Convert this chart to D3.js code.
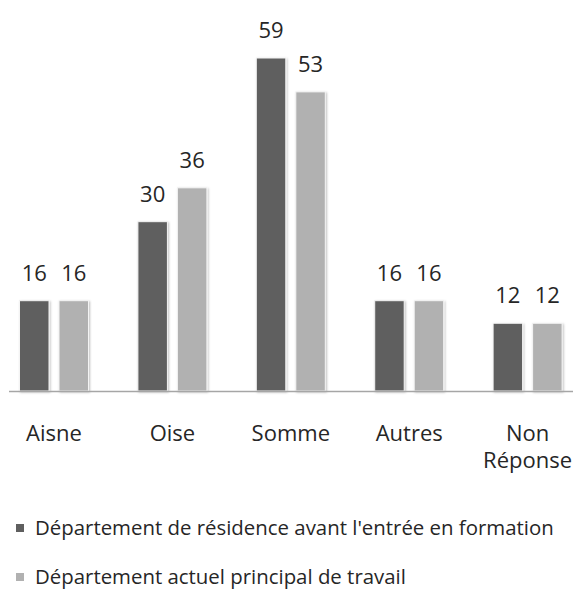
<!DOCTYPE html>
<html>
<head>
<meta charset="utf-8">
<script src="https://cdn.jsdelivr.net/npm/d3@7"></script>
<style>
  body { margin: 0; background: #fff; }
  text { font-family: "Open Sans", sans-serif; fill: #262626; }
</style>
</head>
<body>
<div id="chart"></div>
<script>
// data
const categories = ["Aisne", "Oise", "Somme", "Autres", "Non Réponse"];
const seriesNames = [
  "Département de résidence avant l'entrée en formation",
  "Département actuel principal de travail"
];
const residence = [16, 30, 59, 16, 12];
const travail = [16, 36, 53, 16, 12];
const seriesColors = ["#5f5f5f", "#b1b1b1"];

const width = 573, height = 591;
const baseline = 391;

const svg = d3.select("#chart").append("svg")
  .attr("width", width)
  .attr("height", height);

// soft shadow round the bars
const defs = svg.append("defs");
const filt = defs.append("filter").attr("id", "shadow")
  .attr("x", "-30%").attr("y", "-10%").attr("width", "160%").attr("height", "120%");
filt.append("feDropShadow")
  .attr("dx", 1).attr("dy", 1).attr("stdDeviation", 1.2)
  .attr("flood-color", "#000").attr("flood-opacity", 0.25);

// scales
var x = d3.scaleBand()
  .domain(categories)
  .range([-5.2, 586.8]);

var x1 = d3.scaleBand()
  .domain(seriesNames)
  .range([-34.5, 34.5])
  .paddingInner(0.253);

var y = d3.scaleLinear()
  .domain([0, 59])
  .range([baseline, 58]);

const rows = categories.map((c, i) => ({
  cat: c,
  values: [
    { s: seriesNames[0], v: residence[i], col: seriesColors[0] },
    { s: seriesNames[1], v: travail[i], col: seriesColors[1] }
  ]
}));

const group = svg.append("g").selectAll("g")
  .data(rows)
  .join("g")
  .attr("transform", d => `translate(${x(d.cat) + x.bandwidth() / 2},0)`);

group.selectAll("rect")
  .data(d => d.values)
  .join("rect")
  .attr("x", d => x1(d.s))
  .attr("y", d => y(d.v))
  .attr("width", x1.bandwidth())
  .attr("height", d => baseline - y(d.v))
  .attr("fill", d => d.col)
  .attr("stroke", "#f4f4f4")
  .attr("stroke-width", 1)
  .attr("filter", "url(#shadow)");

// value labels
group.selectAll("text.val")
  .data(d => d.values)
  .join("text")
  .attr("class", "val")
  .attr("x", d => x1(d.s) + x1.bandwidth() / 2)
  .attr("y", d => y(d.v) - 20)
  .attr("text-anchor", "middle")
  .attr("font-size", 22)
  .text(d => d.v);

// category axis
svg.append("line")
  .attr("x1", 9).attr("x2", width)
  .attr("y1", baseline + 0.5).attr("y2", baseline + 0.5)
  .attr("stroke", "#a6a6a6")
  .attr("stroke-width", 1.5);

const catLabels = svg.append("g").selectAll("text")
  .data(categories)
  .join("text")
  .attr("x", d => x(d) + x.bandwidth() / 2)
  .attr("y", 441)
  .attr("text-anchor", "middle")
  .attr("font-size", 22);

catLabels.each(function (d) {
  const words = d.split(" ");
  const t = d3.select(this);
  words.forEach((w, i) => {
    t.append("tspan")
      .attr("x", x(d) + x.bandwidth() / 2)
      .attr("dy", i === 0 ? 0 : 27)
      .text(w);
  });
});

// legend
const legend = svg.append("g").selectAll("g")
  .data(seriesNames)
  .join("g")
  .attr("transform", (d, i) => `translate(16,${524 + i * 49})`);

legend.append("rect")
  .attr("width", 8).attr("height", 8)
  .attr("fill", (d, i) => seriesColors[i]);

legend.append("text")
  .attr("x", 19)
  .attr("y", 11)
  .attr("font-size", 20.4)
  .text(d => d);
</script>
</body>
</html>
